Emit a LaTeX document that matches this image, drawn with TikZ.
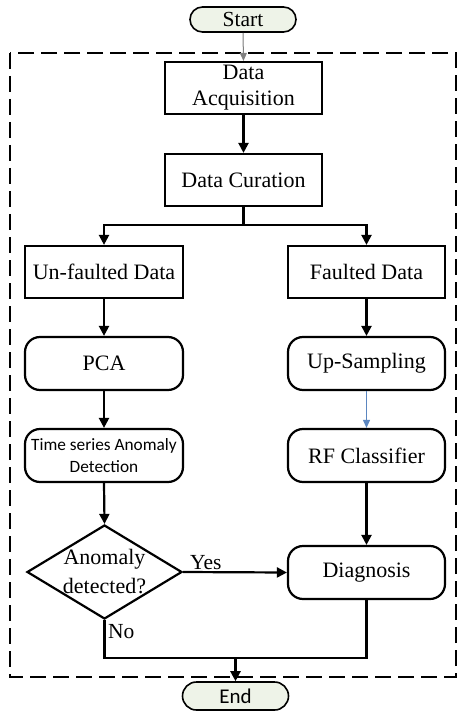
\documentclass[tikz,border=0pt]{standalone}
\usepackage{fontspec}
\setmainfont{Liberation Serif}
\newfontfamily\calib{Carlito}
\usetikzlibrary{arrows.meta,shapes.geometric}
\definecolor{termfill}{HTML}{EEF3E8}
\definecolor{thinblue}{HTML}{5B86C0}
\tikzset{
  base/.style={draw=black, line width=2.2pt, minimum width=157pt, minimum height=52pt,
    inner sep=2pt, align=center, font=\fontsize{22}{26}\selectfont},
  procbox/.style={base},
  softbox/.style={base, rounded corners=15pt, minimum height=53pt},
  term/.style={draw=black, line width=1.6pt, fill=termfill, rounded corners=12.5pt,
    minimum width=106pt, minimum height=25pt, inner sep=0pt, font=\fontsize{21.5}{24}\selectfont},
  dia/.style={draw=black, line width=2.2pt, shape=diamond, minimum width=155pt,
    minimum height=94pt, inner sep=0pt},
  flow/.style={line width=2.2pt, -{Triangle[length=10pt,width=10pt]}},
  thinflow/.style={line width=1pt, -{Triangle[length=8pt,width=7pt]}},
  lbl/.style={font=\fontsize{21.5}{24}\selectfont, inner sep=0pt}
}
\begin{document}
\begin{tikzpicture}[x=1pt,y=-1pt]
\useasboundingbox (0,0) rectangle (457,711);

% enclosing dashed frame
\draw[line width=2pt, dash pattern=on 16pt off 7pt] (10,53) rectangle (456,677);

% terminals
\node[term] (start) at (243,19.5) {Start};
\node[term, minimum height=28pt, rounded corners=14pt, font=\calib\fontsize{21}{24}\selectfont] (finish) at (235.5,696) {End};

% main column
\node[procbox] (acq) at (243.5,88) {Data\\Acquisition};
\node[procbox] (cur) at (243.5,180) {Data Curation};

% left branch
\node[procbox, minimum width=158pt] (unf) at (104,272) {Un-faulted Data};
\node[softbox, minimum width=158pt] (pca) at (104,363.5) {PCA};
\node[softbox, minimum width=158pt, font=\calib\fontsize{17.3}{22}\selectfont] (ts) at (104,455.5) {Time series Anomaly\\Detection};
\node[dia] (dec) at (104.5,572) {};
\node[align=center, inner sep=0pt, font=\fontsize{22}{29}\selectfont] (dectext) at (104.5,572) {Anomaly\\detected?};

% right branch
\node[procbox] (fault) at (366.5,272) {Faulted Data};
\node[softbox] (ups) at (366.5,363.5) {Up-Sampling};
\node[softbox] (rf) at (366.5,455.5) {RF Classifier};
\node[softbox] (diag) at (366.5,572.5) {Diagnosis};

% connectors
\draw[thinflow, draw=gray, fill=gray] (start.south) -- (acq.north);
\draw[flow] (acq) -- (cur);
\coordinate (split) at (243.5,225);
\draw[line width=2.2pt] (cur.south) -- (split);
\draw[flow] (split) -| (unf.north);
\draw[flow] (split) -| (fault.north);
\draw[flow] (unf) -- (pca);
\draw[flow] (pca) -- (ts);
\draw[flow] (ts.south) -- (dec.north);
\draw[flow] (fault) -- (ups);
\draw[thinflow, draw=thinblue, fill=thinblue] (ups.south) -- (rf.north);
\draw[flow] (rf) -- (diag);
\draw[flow] (dec.east) -- (diag.west);
\node[lbl, anchor=south west] (yes) at (190,570) {Yes};

\coordinate (jl) at (104.5,658);
\coordinate (jr) at (366.5,658);
\draw[line width=2.2pt] (dec.south) -- (jl) -- (jr) -- (diag.south);
\node[lbl, anchor=west] (no) at (108,632) {No};
\draw[flow] (finish.north |- jl) -- (finish.north);
\end{tikzpicture}
\end{document}
